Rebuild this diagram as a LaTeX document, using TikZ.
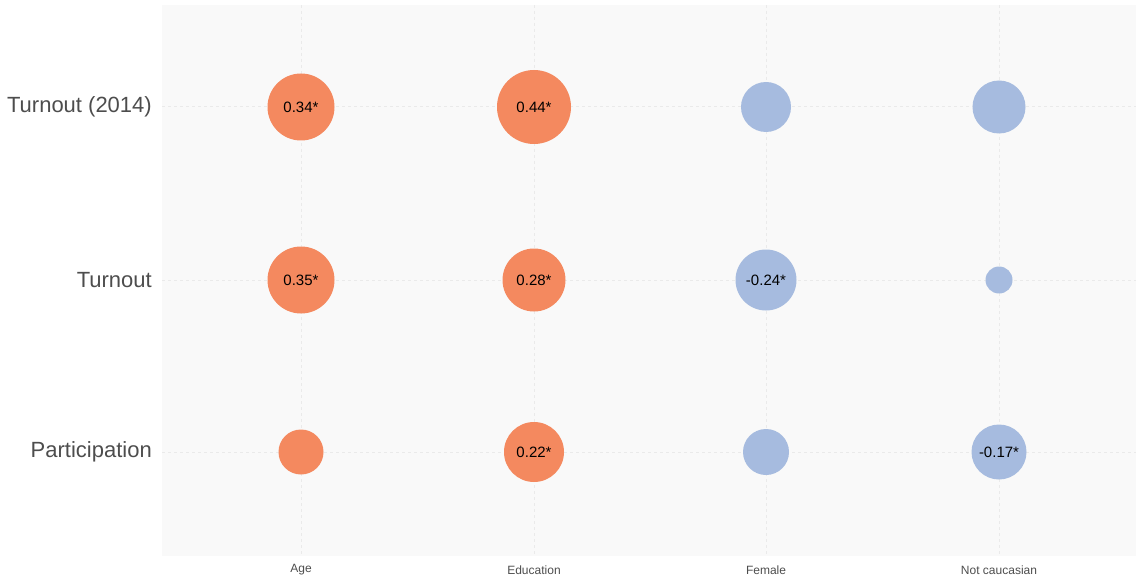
\documentclass[tikz,border=0pt]{standalone}
\usepackage{fontspec}
\setmainfont{Liberation Sans}
\usepackage{xcolor}
\usepackage{tikz}
\usetikzlibrary{positioning}
\definecolor{corrpos}{HTML}{F4895F}
\definecolor{corrneg}{HTML}{A6BBDF}
\definecolor{panelbg}{HTML}{F9F9F9}
\definecolor{gridgray}{HTML}{EAEAEA}
\definecolor{labelgray}{HTML}{4D4D4D}

\begin{document}
\begin{tikzpicture}[
    x=1pt, y=-1pt,
    bubble/.style={
      circle, inner sep=0pt, minimum size=#1, font=\fontsize{15}{17}\selectfont,
      text=black
    },
    pos/.style={bubble=#1, fill=corrpos},
    neg/.style={bubble=#1, fill=corrneg},
    rowlabel/.style={anchor=east, font=\fontsize{22}{26}\selectfont, text=labelgray, inner sep=0pt},
    collabel/.style={anchor=center, font=\fontsize{12}{14}\selectfont, text=labelgray, inner sep=0pt},
    gridline/.style={draw=gridgray, dashed, line width=1pt},
]
  \useasboundingbox (0,0) rectangle (1140,580);
  \fill[panelbg] (162,5) rectangle (1136,556);

  % grid
  \draw[gridline] (162,107) -- (1136,107);
  \draw[gridline] (162,280) -- (1136,280);
  \draw[gridline] (162,452) -- (1136,452);
  \draw[gridline] (301,5) -- (301,556);
  \draw[gridline] (534,5) -- (534,556);
  \draw[gridline] (766,5) -- (766,556);
  \draw[gridline] (999,5) -- (999,556);

  % row labels
  \node[rowlabel] (rt14) at (152,107) {Turnout (2014)};
  \node[rowlabel] (rt) at (152,280) {Turnout};
  \node[rowlabel] (rp) at (152,452) {Participation};

  % column labels
  \node[collabel] (cage) at (301,570) {Age};
  \node[collabel] (cedu) at (534,570) {Education};
  \node[collabel] (cfem) at (766,570) {Female};
  \node[collabel] (cnc) at (999,570) {Not caucasian};

  % bubbles
  \node[pos=67pt] (age-t14) at (301,107) {0.34*};
  \node[pos=74pt] (edu-t14) at (534,107) {0.44*};
  \node[neg=50pt] (fem-t14) at (766,107) {};
  \node[neg=53pt] (nc-t14) at (999,107) {};

  \node[pos=67pt] (age-t) at (301,280) {0.35*};
  \node[pos=63pt] (edu-t) at (534,280) {0.28*};
  \node[neg=61pt] (fem-t) at (766,280) {-0.24*};
  \node[neg=27pt] (nc-t) at (999,280) {};

  \node[pos=45pt] (age-p) at (301,452) {};
  \node[pos=60pt] (edu-p) at (534,452) {0.22*};
  \node[neg=46pt] (fem-p) at (766,452) {};
  \node[neg=55pt] (nc-p) at (999,452) {-0.17*};
\end{tikzpicture}
\end{document}
